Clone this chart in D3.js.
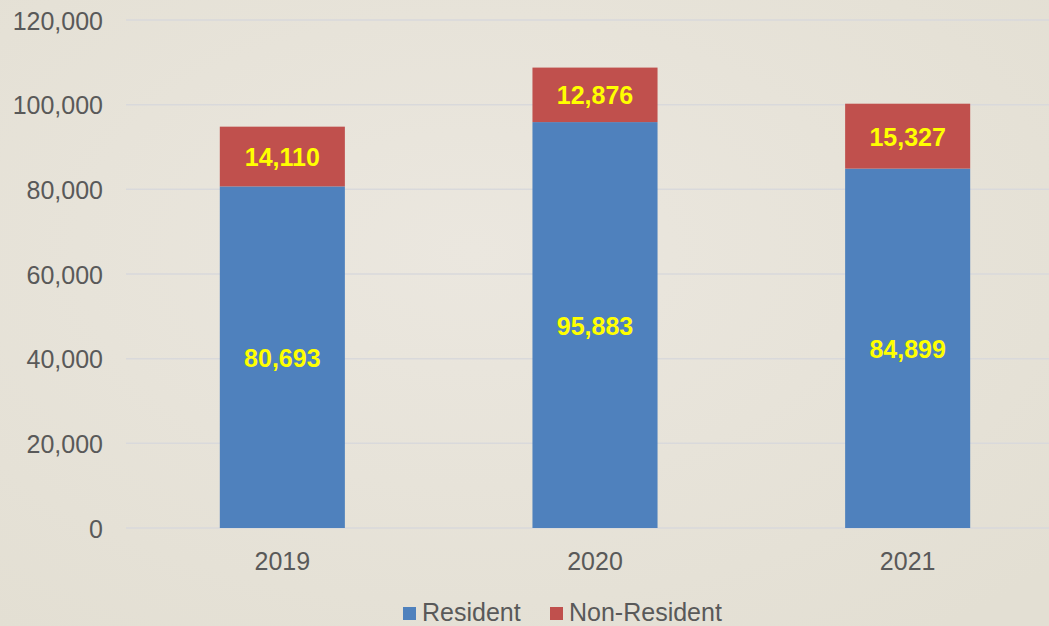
<!DOCTYPE html>
<html>
<head>
<meta charset="utf-8">
<script src="https://cdn.jsdelivr.net/npm/d3@7"></script>
<style>
  html, body { margin: 0; padding: 0; overflow: hidden; }
  body { width: 1049px; height: 626px; background: #e9e5dc; }
  svg { display: block; font-family: "Liberation Sans", Arial, sans-serif; }
</style>
</head>
<body>
<svg id="chart" width="1049" height="626"></svg>
<script>
// chart data
var years = ["2019", "2020", "2021"];
var resident = [80693, 95883, 84899];
var nonResident = [14110, 12876, 15327];
var yTicks = [0, 20000, 40000, 60000, 80000, 100000, 120000];
var seriesNames = ["Resident", "Non-Resident"];
var seriesColors = ["#4f81bd", "#c0504d"];

var svg = d3.select("#chart");

// faint paper texture
var defs = svg.append("defs");
var grad = defs.append("radialGradient").attr("id", "bg")
    .attr("cx", "45%").attr("cy", "40%").attr("r", "75%");
grad.append("stop").attr("offset", "0%").attr("stop-color", "#ebe7df");
grad.append("stop").attr("offset", "100%").attr("stop-color", "#e3dfd3");
svg.append("rect").attr("width", 1049).attr("height", 626).attr("fill", "url(#bg)");

var x = d3.scaleBand().domain(years).range([126, 1064]).paddingInner(0.6).paddingOuter(0.3);
var y = d3.scaleLinear().domain([0, 120000]).range([528, 20]);
var fmt = d3.format(",");

// gridlines
svg.append("g").selectAll("line")
    .data(yTicks)
    .enter().append("line")
    .attr("x1", 126).attr("x2", 1049)
    .attr("y1", function(d) { return y(d); })
    .attr("y2", function(d) { return y(d); })
    .attr("stroke", "#d9d9db")
    .attr("stroke-width", 1.5);

// y axis labels
var yAxis = d3.axisLeft(y).tickValues(yTicks).tickFormat(fmt).tickSize(0).tickPadding(0);
var yg = svg.append("g").attr("transform", "translate(103,0)").call(yAxis);
yg.select(".domain").remove();
yg.selectAll("text")
    .attr("font-size", 25)
    .attr("font-family", "Liberation Sans, Arial, sans-serif")
    .attr("fill", "#595959")
    .attr("dy", "0.36em");

// x axis labels
var xAxis = d3.axisBottom(x).tickSize(0).tickPadding(0);
var xg = svg.append("g").attr("transform", "translate(0,550)").call(xAxis);
xg.select(".domain").remove();
xg.selectAll("text")
    .attr("font-size", 25)
    .attr("font-family", "Liberation Sans, Arial, sans-serif")
    .attr("fill", "#595959")
    .attr("dy", "0.78em");

// stacked bars
var rows = years.map(function(yr, i) {
    return { year: yr, Resident: resident[i], "Non-Resident": nonResident[i] };
});
var stack = d3.stack().keys(seriesNames)(rows);

var layers = svg.append("g").selectAll("g")
    .data(stack)
    .enter().append("g")
    .attr("fill", function(d, i) { return seriesColors[i]; });

layers.selectAll("rect")
    .data(function(d) { return d; })
    .enter().append("rect")
    .attr("x", function(d) { return x(d.data.year); })
    .attr("width", x.bandwidth())
    .attr("y", function(d) { return y(d[1]); })
    .attr("height", function(d) { return y(d[0]) - y(d[1]); });

layers.selectAll("text")
    .data(function(d) { return d; })
    .enter().append("text")
    .attr("x", function(d) { return x(d.data.year) + x.bandwidth() / 2; })
    .attr("y", function(d) { return (y(d[0]) + y(d[1])) / 2; })
    .attr("dy", "0.38em")
    .attr("text-anchor", "middle")
    .attr("font-size", 25)
    .attr("font-weight", "bold")
    .attr("fill", "#ffff00")
    .text(function(d) { return fmt(d[1] - d[0]); });

// legend
var legendX = [403, 550];
var legend = svg.append("g").selectAll("g")
    .data(seriesNames)
    .enter().append("g")
    .attr("transform", function(d, i) { return "translate(" + legendX[i] + ",607)"; });
legend.append("rect")
    .attr("width", 13).attr("height", 13)
    .attr("fill", function(d, i) { return seriesColors[i]; });
legend.append("text")
    .attr("x", 19).attr("y", 14)
    .attr("font-size", 25)
    .attr("fill", "#595959")
    .text(function(d) { return d; });
</script>
</body>
</html>
